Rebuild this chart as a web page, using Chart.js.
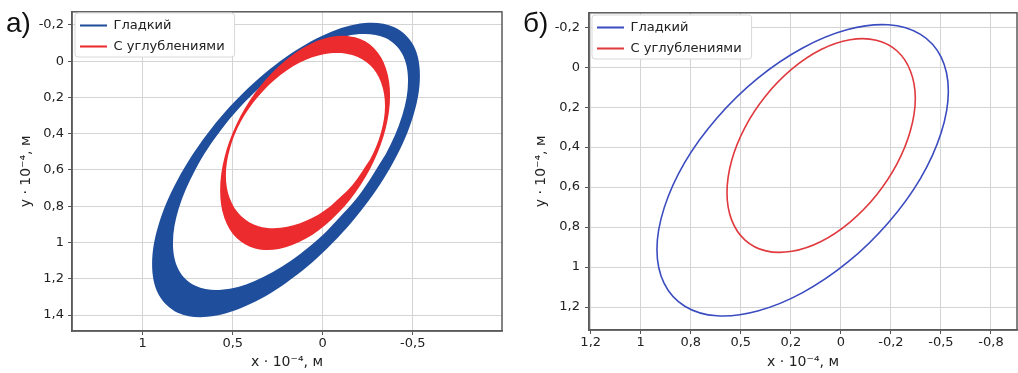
<!DOCTYPE html>
<html>
<head>
<meta charset="utf-8">
<script src="https://cdn.jsdelivr.net/npm/chart.js@4.4.0/dist/chart.umd.min.js"></script>
<style>
  html, body { margin: 0; padding: 0; background: #fff; }
  body { width: 1018px; height: 373px; position: relative; overflow: hidden; }
  .panel { position: absolute; top: 0; width: 509px; height: 373px; }
  .tag { position: absolute; font-family: 'Liberation Sans', Arial, sans-serif; font-size: 28px; line-height: 28px; color: #111; }
</style>
</head>
<body>
<div class="panel" style="left:0"><canvas id="chartA" width="509" height="373"></canvas></div>
<div class="panel" style="left:509px"><canvas id="chartB" width="509" height="373"></canvas></div>
<div class="tag" style="left:6px; top:9px">а)</div>
<div class="tag" style="left:523px; top:9px">б)</div>
<script>
// Orbit data, [x, y] in units of 1e-4 m

const seriesNames = ["Гладкий", "С углублениями"];

// Panel а) – edges of the bands swept by the orbits
const smoothOuterA = [[-0.540,0.080],[-0.504,0.298],[-0.398,0.546],[-0.234,0.798],[-0.026,1.032],[0.204,1.223],[0.434,1.353],[0.642,1.410],[0.806,1.387],[0.912,1.287],[0.948,1.120],[0.912,0.902],[0.806,0.654],[0.642,0.402],[0.434,0.168],[0.204,-0.023],[-0.026,-0.153],[-0.234,-0.210],[-0.398,-0.187],[-0.504,-0.087]];
const smoothInnerA = [[-0.474,0.108],[-0.442,0.299],[-0.349,0.515],[-0.205,0.735],[-0.023,0.937],[0.179,1.102],[0.381,1.213],[0.563,1.261],[0.707,1.239],[0.800,1.151],[0.832,1.004],[0.800,0.813],[0.707,0.597],[0.563,0.377],[0.381,0.175],[0.179,0.010],[-0.023,-0.101],[-0.205,-0.149],[-0.349,-0.127],[-0.442,-0.039]];
const dimpledOuterA = [[-0.374,0.190],[-0.351,0.367],[-0.284,0.552],[-0.180,0.727],[-0.048,0.874],[0.098,0.981],[0.244,1.036],[0.376,1.033],[0.480,0.974],[0.547,0.863],[0.570,0.712],[0.547,0.535],[0.480,0.350],[0.376,0.175],[0.244,0.028],[0.098,-0.079],[-0.048,-0.134],[-0.180,-0.131],[-0.284,-0.072],[-0.351,0.039]];
const dimpledInnerA = [[-0.346,0.246],[-0.324,0.392],[-0.262,0.544],[-0.164,0.684],[-0.041,0.801],[0.096,0.882],[0.233,0.919],[0.356,0.910],[0.454,0.854],[0.516,0.758],[0.538,0.630],[0.516,0.484],[0.454,0.332],[0.356,0.192],[0.233,0.075],[0.096,-0.006],[-0.041,-0.043],[-0.164,-0.034],[-0.262,0.022],[-0.324,0.118]];

// Panel б) – single orbits
const smoothB = [[-0.537,0.120],[-0.501,0.328],[-0.398,0.556],[-0.237,0.778],[-0.034,0.976],[0.191,1.128],[0.416,1.220],[0.619,1.244],[0.780,1.196],[0.883,1.082],[0.919,0.912],[0.883,0.704],[0.780,0.476],[0.619,0.254],[0.416,0.056],[0.191,-0.096],[-0.034,-0.188],[-0.237,-0.212],[-0.398,-0.164],[-0.501,-0.050]];
const dimpledB = [[-0.372,0.156],[-0.348,0.316],[-0.281,0.483],[-0.177,0.641],[-0.046,0.775],[0.099,0.872],[0.244,0.921],[0.375,0.919],[0.479,0.865],[0.546,0.764],[0.569,0.628],[0.546,0.468],[0.479,0.301],[0.375,0.143],[0.244,0.009],[0.099,-0.088],[-0.046,-0.137],[-0.177,-0.135],[-0.281,-0.081],[-0.348,0.020]];

// Axis ticks
const xTicksA = [1, 0.5, 0, -0.5];
const yTicksA = [-0.2, 0, 0.2, 0.4, 0.6, 0.8, 1, 1.2, 1.4];
const xTicksB = [1.25, 1, 0.75, 0.5, 0.25, 0, -0.25, -0.5, -0.75];
const xTickLabelsB = ["1,2", "1", "0,8", "0,5", "0,2", "0", "-0,2", "-0,5", "-0,8"];
const yTicksB = [-0.2, 0, 0.2, 0.4, 0.6, 0.8, 1, 1.2];

Chart.defaults.font.family = "'DejaVu Sans', sans-serif";
Chart.defaults.font.size = 13;
Chart.defaults.color = "#222";

const fmt = (v) => String(v).replace(".", ",");
const toPts = (arr) => arr.map(([x, y]) => ({ x, y }));
// repeat a point on each side so the spline runs smoothly through the seam
const wrap = (arr) => [arr[arr.length - 1]].concat(arr, [arr[0], arr[1]]);
const loop = (arr) => toPts(wrap(arr));
const rot = (arr, k) => arr.slice(k).concat(arr.slice(0, k));

// outer edge one way round, inner edge back the other way -> ring.
// The seam sits at point k, on a flat stretch of the ellipse; doubled
// points keep the short joins straight.
function band(outer, inner, k) {
  const o = rot(outer, k);
  const i = rot(inner, k);
  const back = [i[0]].concat(i.slice(1).reverse());
  const ow = wrap(o);
  const iw = wrap(back);
  return toPts(ow.concat([ow[ow.length - 1], iw[0]], iw));
}

// hide the two repeated end segments of a looped line
const hideEnds = (n) => ({
  borderColor: (ctx) => (ctx.p0DataIndex === 0 || ctx.p1DataIndex === n - 1 ? "rgba(0,0,0,0)" : undefined),
});

// frame round the plot and a white box behind the legend
const frameAndKey = {
  id: "frameAndKey",
  afterDraw(chart) {
    const { ctx, chartArea: a } = chart;
    ctx.save();
    ctx.strokeStyle = "#5a5a5a";
    ctx.lineWidth = 1.5;
    ctx.strokeRect(a.left, a.top, a.right - a.left, a.bottom - a.top);
    const boxes = chart.legend.legendHitBoxes;
    if (boxes && boxes.length) {
      const l = Math.min(...boxes.map((b) => b.left)) - 5;
      const t = Math.min(...boxes.map((b) => b.top)) - 6;
      const r = Math.max(...boxes.map((b) => b.left + b.width)) + 10;
      const btm = Math.max(...boxes.map((b) => b.top + b.height)) + 4;
      ctx.beginPath();
      ctx.roundRect(l, t, r - l, btm - t, 3);
      ctx.fillStyle = "rgba(255,255,255,0.96)";
      ctx.fill();
      ctx.strokeStyle = "#d8d8d8";
      ctx.lineWidth = 1;
      ctx.stroke();
    }
    ctx.restore();
    chart.legend.draw();
  },
};

function makeOptions(p) {
  return {
    responsive: false,
    animation: false,
    events: [],
    layout: { padding: { left: 0, right: p.padRight, top: 11, bottom: 0 } },
    plugins: {
      tooltip: { enabled: false },
      legend: {
        position: "chartArea",
        align: "start",
        title: { display: true, text: "", font: { size: p.keyTop, lineHeight: 1 }, padding: 0 },
        labels: {
          boxWidth: 27,
          boxHeight: 2,
          padding: p.keyPad,
          font: { size: 13 },
          color: "#222",
          sort: (a, b) => a.datasetIndex - b.datasetIndex,
          generateLabels(chart) {
            const items = Chart.defaults.plugins.legend.labels.generateLabels(chart);
            items.forEach((it) => {
              it.lineWidth = 0;
              it.fillStyle = chart.data.datasets[it.datasetIndex].borderColor;
            });
            return items;
          },
        },
      },
    },
    scales: {
      x: {
        type: "linear",
        reverse: true,
        min: p.xMin,
        max: p.xMax,
        afterBuildTicks: (scale) => { scale.ticks = p.xTicks.map((v) => ({ value: v })); },
        afterFit: (scale) => { scale.height = p.xHeight; },
        ticks: { callback: p.xLabel, padding: 1, autoSkip: false, maxRotation: 0 },
        grid: { color: "#d4d4d4", tickColor: "#555", tickLength: 4 },
        border: { color: "#5a5a5a", width: 1.5 },
        title: { display: true, text: "x · 10⁻⁴, м", font: { size: 14 }, padding: { top: 0, bottom: 2 } },
      },
      y: {
        type: "linear",
        reverse: true,
        min: p.yMin,
        max: p.yMax,
        afterBuildTicks: (scale) => { scale.ticks = p.yTicks.map((v) => ({ value: v })); },
        afterFit: (scale) => { scale.width = p.yWidth; },
        ticks: { callback: (v) => fmt(v), padding: p.yPad, autoSkip: false },
        grid: { color: "#d4d4d4", tickColor: "#555", tickLength: 4 },
        border: { color: "#5a5a5a", width: 1.5 },
        title: { display: true, text: "y · 10⁻⁴, м", font: { size: 14 }, padding: { top: p.yTitlePad, bottom: 0 } },
      },
    },
  };
}

const bandSmooth = band(smoothOuterA, smoothInnerA, 3);
const bandDimpled = band(dimpledOuterA, dimpledInnerA, 3);

new Chart(document.getElementById("chartA"), {
  type: "scatter",
  data: {
    datasets: [
      {
        label: seriesNames[0],
        data: bandSmooth,
        showLine: true,
        fill: "shape",
        tension: 0.35,
        borderColor: "#1f4e9c",
        backgroundColor: "#1f4e9c",
        borderWidth: 0,
        pointRadius: 0,
        order: 1,
      },
      {
        label: seriesNames[1],
        data: bandDimpled,
        showLine: true,
        fill: "shape",
        tension: 0.35,
        borderColor: "#ec2b2e",
        backgroundColor: "#ec2b2e",
        borderWidth: 0,
        pointRadius: 0,
        order: 0,
      },
    ],
  },
  options: makeOptions({
    padRight: 7, keyPad: 8, keyTop: 11,
    xMin: -0.996, xMax: 1.393, xTicks: xTicksA, xLabel: (v) => fmt(v), xHeight: 42,
    yMin: -0.272, yMax: 1.488, yTicks: yTicksA, yWidth: 72, yPad: 4, yTitlePad: 17.6,
  }),
  plugins: [frameAndKey],
});

const lineSmooth = loop(smoothB);
const lineDimpled = loop(dimpledB);

new Chart(document.getElementById("chartB"), {
  type: "scatter",
  data: {
    datasets: [
      {
        label: seriesNames[0],
        data: lineSmooth,
        showLine: true,
        fill: false,
        tension: 0.35,
        borderColor: "#3b4cc0",
        backgroundColor: "#3b4cc0",
        borderWidth: 1.6,
        pointRadius: 0,
        segment: hideEnds(lineSmooth.length),
      },
      {
        label: seriesNames[1],
        data: lineDimpled,
        showLine: true,
        fill: false,
        tension: 0.35,
        borderColor: "#e0393e",
        backgroundColor: "#e0393e",
        borderWidth: 1.6,
        pointRadius: 0,
        segment: hideEnds(lineDimpled.length),
      },
    ],
  },
  options: makeOptions({
    padRight: 1, keyPad: 8, keyTop: 13,
    xMin: -0.88, xMax: 1.2585, xTicks: xTicksB, xLabel: (v, i) => xTickLabelsB[i], xHeight: 43,
    yMin: -0.272, yMax: 1.315, yTicks: yTicksB, yWidth: 80, yPad: 5, yTitlePad: 23.6,
  }),
  plugins: [frameAndKey],
});
</script>
</body>
</html>
